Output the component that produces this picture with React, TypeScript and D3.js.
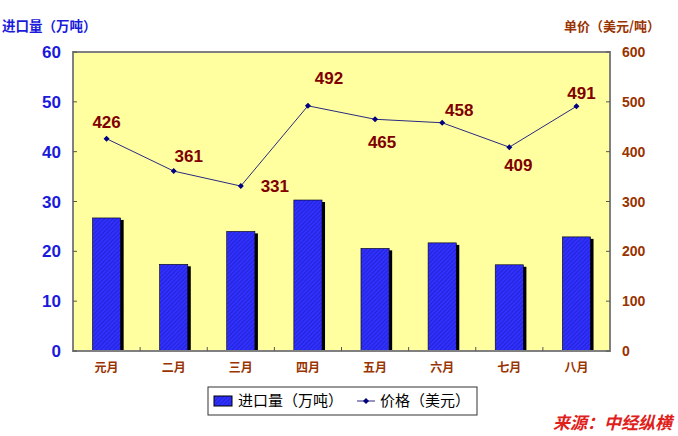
import React from "react";
import * as d3 from "d3";

const categories = ["元月", "二月", "三月", "四月", "五月", "六月", "七月", "八月"];
const importVolume = [26.7, 17.4, 24.0, 30.3, 20.6, 21.7, 17.3, 22.9];
const price = [426, 361, 331, 492, 465, 458, 409, 491];
const leftTicks = [0, 10, 20, 30, 40, 50, 60];
const rightTicks = [0, 100, 200, 300, 400, 500, 600];
// label offsets relative to the point (layout only)
const labelOffsets: [number, number][] = [
  [0, -17], [15, -15], [34, 0], [21, -28], [7, 23], [17, -13], [9, 18], [5, -13],
];

const W = 678, H = 436;
const plot = { left: 73, right: 610, top: 52, bottom: 351 };

export default function App() {
  const x = d3.scaleBand<string>().domain(categories).range([plot.left, plot.right]).paddingInner(0).paddingOuter(0);
  const yL = d3.scaleLinear().domain([0, 60]).range([plot.bottom, plot.top]);
  const yR = d3.scaleLinear().domain([0, 600]).range([plot.bottom, plot.top]);
  const bw = x.bandwidth() * 0.42;
  const cx = (c: string) => (x(c) as number) + x.bandwidth() / 2;
  const line = d3.line<number>().x((_, i) => cx(categories[i])).y((d) => yR(d));
  const cjk = '"Noto Sans CJK SC", sans-serif';
  const num = '"Liberation Sans", Arial, sans-serif';

  return (
    <svg width={W} height={H} style={{ position: "absolute", left: 0, top: 0, background: "#fff" }}>
      <defs>
        <pattern id="hatch" width="3" height="3" patternUnits="userSpaceOnUse" patternTransform="rotate(45)">
          <rect width="3" height="3" fill="#3030ff" />
          <line x1="0" y1="0" x2="0" y2="3" stroke="#1818a8" strokeWidth="1" />
        </pattern>
      </defs>
      <rect x={0} y={0} width={W} height={H} fill="#fff" />
      <rect x={plot.left} y={plot.top} width={plot.right - plot.left} height={plot.bottom - plot.top} fill="#ffffa0" />
      {/* bars */}
      {categories.map((c, i) => {
        const bx = cx(c) - bw / 2;
        const by = yL(importVolume[i]);
        const bh = plot.bottom - by;
        return (
          <g key={c}>
            <rect x={bx + 3} y={by + 2} width={bw} height={bh - 2} fill="#000" />
            <rect x={bx} y={by} width={bw} height={bh} fill="url(#hatch)" stroke="#000" strokeWidth={0.6} />
          </g>
        );
      })}
      {/* frame */}
      <rect x={plot.left} y={plot.top} width={plot.right - plot.left} height={plot.bottom - plot.top} fill="none" stroke="#808080" strokeWidth={2} />
      {/* left ticks */}
      {leftTicks.map((t) => (
        <g key={"l" + t}>
          <line x1={plot.left} x2={plot.left + 4} y1={yL(t)} y2={yL(t)} stroke="#555" />
          <text x={61} y={yL(t)} dy="0.36em" textAnchor="end" fill="#1a1adc" fontFamily={num} fontWeight="bold" fontSize={17}>{t}</text>
        </g>
      ))}
      {rightTicks.map((t) => (
        <g key={"r" + t}>
          <line x1={plot.right - 4} x2={plot.right} y1={yR(t)} y2={yR(t)} stroke="#555" />
          <text x={622} y={yR(t)} dy="0.36em" textAnchor="start" fill="#993300" fontFamily={num} fontWeight="bold" fontSize={14}>{t}</text>
        </g>
      ))}
      {/* bottom ticks */}
      {categories.slice(1).map((c) => (
        <line key={"b" + c} x1={x(c) as number} x2={x(c) as number} y1={plot.bottom} y2={plot.bottom - 4} stroke="#555" />
      ))}
      {categories.map((c) => (
        <text key={"xl" + c} x={cx(c)} y={368} dy="0.36em" textAnchor="middle" fill="#993300" fontFamily={cjk} fontWeight="bold" fontSize={12}>{c}</text>
      ))}
      {/* price line */}
      <path d={line(price) || ""} fill="none" stroke="#2a2a80" strokeWidth={1} />
      {price.map((p, i) => {
        const px = cx(categories[i]);
        const py = yR(p);
        return (
          <g key={"p" + i}>
            <path d={`M${px},${py - 3}L${px + 3},${py}L${px},${py + 3}L${px - 3},${py}Z`} fill="#000080" />
            <text x={px + labelOffsets[i][0]} y={py + labelOffsets[i][1]} dy="0.36em" textAnchor="middle" fill="#800000" fontFamily={num} fontWeight="bold" fontSize={17}>{p}</text>
          </g>
        );
      })}
      {/* axis titles */}
      <text x={2} y={26} dy="0.36em" fill="#1a1adc" fontFamily={cjk} fontWeight="bold" fontSize={13.5}>进口量（万吨）</text>
      <text x={564} y={26} dy="0.36em" fill="#993300" fontFamily={cjk} fontWeight="bold" fontSize={13}>单价（美元/吨）</text>
      {/* legend */}
      <rect x={208} y={387} width={269} height={28} fill="#fff" stroke="#333" strokeWidth={1} />
      <rect x={214} y={396} width={18} height={10} fill="url(#hatch)" stroke="#000" strokeWidth={1} />
      <text x={238} y={401} dy="0.36em" fill="#000" fontFamily={cjk} fontSize={15}>进口量（万吨）</text>
      <line x1={357} x2={375} y1={401} y2={401} stroke="#2a2a80" strokeWidth={1} />
      <path d="M366,398L369,401L366,404L363,401Z" fill="#000080" />
      <text x={380} y={401} dy="0.36em" fill="#000" fontFamily={cjk} fontSize={15}>价格（美元）</text>
      {/* source */}
      <text x={553} y={423} dy="0.36em" fill="#e0201a" fontFamily={cjk} fontWeight="bold" fontStyle="italic" fontSize={17}>来源：中经纵横</text>
    </svg>
  );
}
